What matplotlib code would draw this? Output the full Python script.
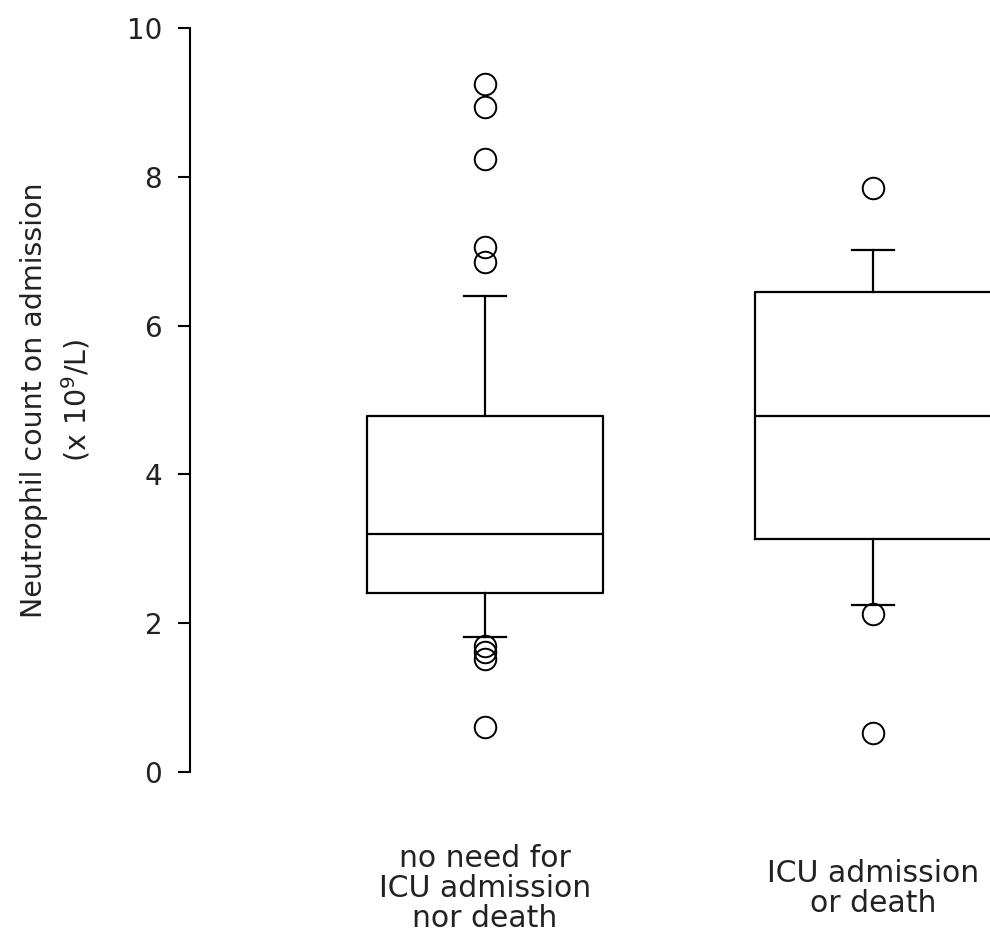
import matplotlib
matplotlib.use('Agg')
import matplotlib.pyplot as plt

# box statistics
groups = ["no need for\nICU admission\nnor death", "ICU admission\nor death"]
q1 = [2.41, 3.13]
medians = [3.20, 4.79]
q3 = [4.78, 6.45]
whisker_low = [1.81, 2.25]
whisker_high = [6.40, 7.02]
outliers = [
    [9.25, 8.94, 8.24, 7.06, 6.85, 1.70, 1.61, 1.52, 0.61],
    [7.85, 2.12, 0.52],
]
yticks = [0, 2, 4, 6, 8, 10]

plt.rcParams['font.family'] = ['DejaVu Sans']
plt.rcParams['mathtext.fontset'] = 'dejavusans'
text_color = '#222222'

fig = plt.figure(figsize=(9.9, 9.43), dpi=100)
ax = fig.add_axes([190 / 990, 1 - 772 / 943, 800 / 990, (772 - 28) / 943])

stats = []
for i in range(len(groups)):
    stats.append(dict(q1=q1[i], med=medians[i], q3=q3[i],
                      whislo=whisker_low[i], whishi=whisker_high[i],
                      fliers=outliers[i], label=groups[i]))

positions = [1, 2]
ax.bxp(stats, positions=positions, widths=0.61, capwidths=0.11,
       boxprops=dict(color='black', linewidth=1.6),
       medianprops=dict(color='black', linewidth=1.6),
       whiskerprops=dict(color='black', linewidth=1.6),
       capprops=dict(color='black', linewidth=1.6),
       flierprops=dict(marker='o', markersize=15.5, markerfacecolor='none',
                       markeredgecolor='black', markeredgewidth=1.4))

ax.set_xlim(0.2397, 2.3015)
ax.set_ylim(0, 10)
ax.set_yticks(yticks)
ax.set_yticklabels([str(t) for t in yticks])

for side in ['top', 'right', 'bottom']:
    ax.spines[side].set_visible(False)
ax.spines['left'].set_linewidth(1.5)
ax.spines['left'].set_bounds(0, 10)

ax.tick_params(axis='y', length=9, width=1.5, pad=11, labelsize=20,
               labelcolor=text_color)
ax.tick_params(axis='x', length=0, pad=84, labelsize=21.5, labelcolor=text_color)
for lbl in ax.get_xticklabels():
    lbl.set_va('center')
    lbl.set_linespacing(1.03)

ax.set_ylabel("Neutrophil count on admission\n(x 10$^9$/L)", fontsize=20.5,
              color=text_color, linespacing=1.4)
ax.yaxis.set_label_coords((92 - 190) / 800, 0.5)

fig.savefig("out.png", dpi=100)
